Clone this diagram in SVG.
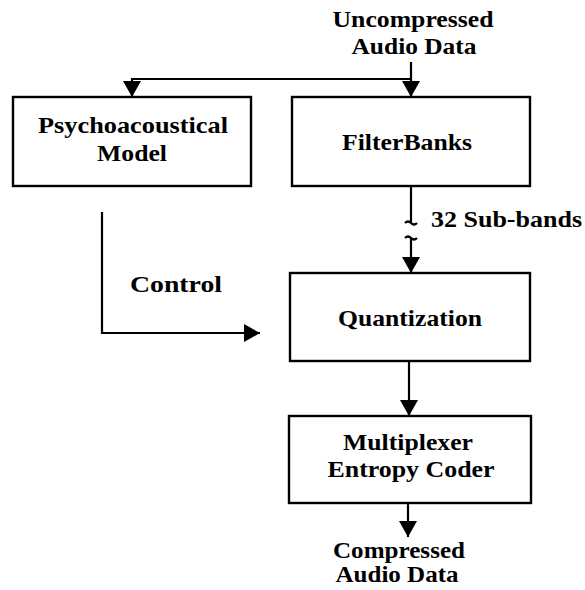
<svg xmlns="http://www.w3.org/2000/svg" width="585" height="590" viewBox="0 0 585 590">
  <style>
    .box { fill: #ffffff; stroke: #000000; stroke-width: 2.4; }
    .wire { fill: none; stroke: #000000; stroke-width: 2.2; }
    .mid { text-anchor: middle; }
  </style>
  <defs>
    <marker id="head" markerUnits="userSpaceOnUse" markerWidth="20" markerHeight="20" refX="16" refY="9" orient="auto">
      <path d="M0,0 L16,9 L0,18 Z" fill="#000000"/>
    </marker>
  </defs>
  <rect width="585" height="590" fill="#ffffff"/>

  <g font-family="Liberation Serif, DejaVu Serif, serif" font-size="23" font-weight="bold" fill="#000000">
  <!-- input / output labels -->
  <g id="input">
    <text class="mid" x="413" y="27" textLength="161" lengthAdjust="spacingAndGlyphs">Uncompressed</text>
    <text class="mid" x="414" y="54" textLength="125" lengthAdjust="spacingAndGlyphs">Audio Data</text>
  </g>
  <g id="output">
    <text class="mid" x="399" y="558" textLength="132" lengthAdjust="spacingAndGlyphs">Compressed</text>
    <text class="mid" x="397" y="582" textLength="123" lengthAdjust="spacingAndGlyphs">Audio Data</text>
  </g>

  <!-- processing blocks -->
  <g id="psychoacoustical-model">
    <rect class="box" x="13" y="97" width="238" height="89"/>
    <text class="mid" x="133" y="133" textLength="190" lengthAdjust="spacingAndGlyphs">Psychoacoustical</text>
    <text class="mid" x="132" y="161" textLength="70" lengthAdjust="spacingAndGlyphs">Model</text>
  </g>
  <g id="filterbanks">
    <rect class="box" x="292" y="97" width="238" height="89"/>
    <text class="mid" x="407" y="150" textLength="130" lengthAdjust="spacingAndGlyphs">FilterBanks</text>
  </g>
  <g id="quantization">
    <rect class="box" x="290" y="273" width="240" height="88"/>
    <text class="mid" x="410" y="326" textLength="144" lengthAdjust="spacingAndGlyphs">Quantization</text>
  </g>
  <g id="multiplexer">
    <rect class="box" x="289" y="416" width="242" height="87"/>
    <text class="mid" x="408" y="450" textLength="130" lengthAdjust="spacingAndGlyphs">Multiplexer</text>
    <text class="mid" x="411" y="477" textLength="167" lengthAdjust="spacingAndGlyphs">Entropy Coder</text>
  </g>

  <!-- connectors -->
  <g id="connectors">
    <path class="wire" d="M411,62 V97" marker-end="url(#head)"/>
    <path class="wire" d="M411,79 H132 V97" marker-end="url(#head)"/>
    <path class="wire" d="M411,186 V222"/>
    <path class="wire" d="M405,223 q3,-3 6,0 t6,0"/>
    <path class="wire" d="M405,238 q3,-3 6,0 t6,0"/>
    <path class="wire" d="M411,237 V273" marker-end="url(#head)"/>
    <text x="431" y="227" textLength="151" lengthAdjust="spacingAndGlyphs">32 Sub-bands</text>
    <path class="wire" d="M102,212 V333 H260" marker-end="url(#head)"/>
    <text x="130" y="292" textLength="92" lengthAdjust="spacingAndGlyphs">Control</text>
    <path class="wire" d="M409,361 V416" marker-end="url(#head)"/>
    <path class="wire" d="M408,503 V537" marker-end="url(#head)"/>
  </g>
  </g>
</svg>
